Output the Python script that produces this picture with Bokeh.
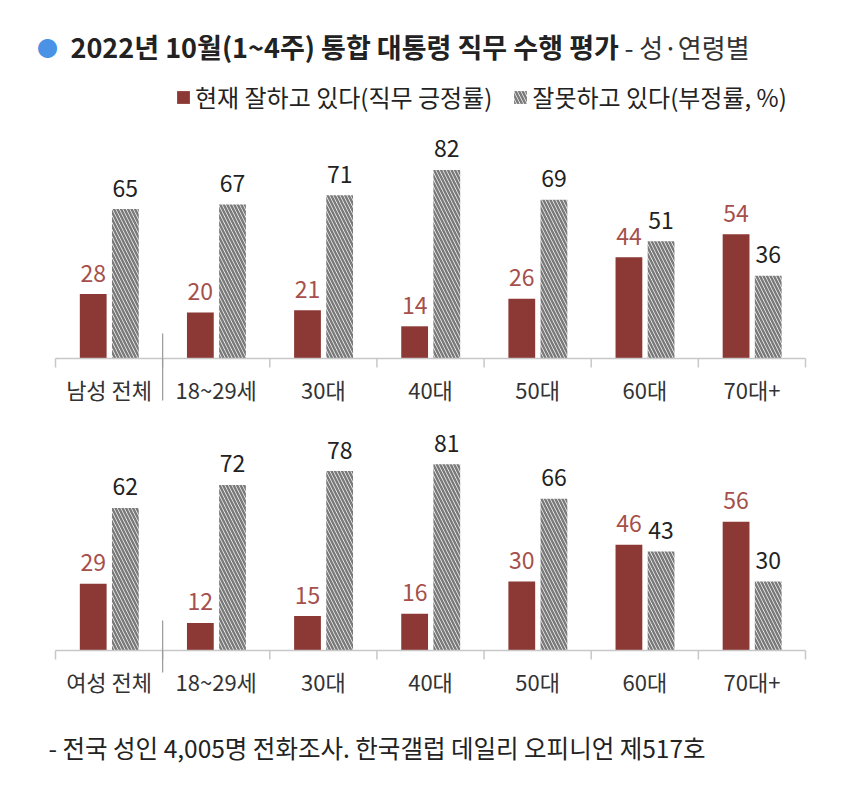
from bokeh.plotting import figure
from bokeh.models import ColumnDataSource, FactorRange, Range1d, Label, Legend, LegendItem
from bokeh.transform import dodge
from bokeh.layouts import column
from bokeh.embed import file_html
from bokeh.resources import INLINE
from bokeh.core.properties import value

# ---------------- data ----------------
title_main = "2022년 10월(1~4주) 통합 대통령 직무 수행 평가"
title_sub = "- 성·연령별"
legend_pos = "현재 잘하고 있다(직무 긍정률)"
legend_neg = "잘못하고 있다(부정률, %)"
footnote = "- 전국 성인 4,005명 전화조사. 한국갤럽 데일리 오피니언 제517호"

male_groups = ["남성 전체", "18~29세", "30대", "40대", "50대", "60대", "70대+"]
male_pos = [28, 20, 21, 14, 26, 44, 54]
male_neg = [65, 67, 71, 82, 69, 51, 36]

female_groups = ["여성 전체", "18~29세", "30대", "40대", "50대", "60대", "70대+"]
female_pos = [29, 12, 15, 16, 30, 46, 56]
female_neg = [62, 72, 78, 81, 66, 43, 30]

# ---------------- style / layout ----------------
FONT = "Noto Sans CJK KR"
RED = "#8c3834"
RED_TXT = "#a5504b"
HATCH = "#7a7a7a"
AXIS = "#c8c8c8"
SEP = "#9a9a9a"
BLUE = "#4a92e6"
K = 2.3                 # px per percentage point
W = 850
BORDER_LEFT = 10        # frame starts here
CAT_LEFT = 55           # first category boundary
CAT_W = 750             # width covered by the 7 categories
FRAME_W = W - BORDER_LEFT
UNIT = CAT_W / 7.0
PAD_SIDE = ((FRAME_W - CAT_W) / 2.0) / UNIT   # padding on each side, factor units


def make_panel(groups, pos, neg, top_px, height, base_px, sep_up, sep_down):
    y0 = -(top_px + height - base_px) / K
    y1 = (base_px - top_px) / K
    p = figure(width=W, height=height,
               x_range=FactorRange(factors=groups, range_padding=PAD_SIDE,
                                   range_padding_units="absolute"),
               y_range=Range1d(y0, y1),
               output_backend="svg", toolbar_location=None, title=None,
               x_axis_location=None, y_axis_location=None,
               min_border_left=BORDER_LEFT, min_border_right=0,
               min_border_top=0, min_border_bottom=0)
    p.outline_line_color = None
    p.background_fill_color = "white"
    p.border_fill_color = "white"
    p.grid.visible = False

    src = ColumnDataSource(dict(
        g=groups, pos=pos, neg=neg,
        pos_txt=[str(v) for v in pos], neg_txt=[str(v) for v in neg],
    ))

    r_pos = p.vbar(x=dodge("g", -0.148, range=p.x_range), top="pos", bottom=0,
                   width=0.25, source=src, fill_color=RED, line_color=None)
    r_neg = p.vbar(x=dodge("g", 0.152, range=p.x_range), top="neg", bottom=0,
                   width=0.25, source=src, fill_color="white", line_color=None,
                   hatch_pattern="\\", hatch_color=HATCH, hatch_scale=7, hatch_weight=2.5)

    p.text(x=dodge("g", -0.148, range=p.x_range), y="pos", text="pos_txt", source=src,
           text_font=value(FONT), text_font_size="23px", text_color=RED_TXT,
           text_align="center", text_baseline="middle", y_offset=-21)
    p.text(x=dodge("g", 0.152, range=p.x_range), y="neg", text="neg_txt", source=src,
           text_font=value(FONT), text_font_size="23px", text_color="#222222",
           text_align="center", text_baseline="middle", y_offset=-21)

    # category labels
    p.text(x="g", y=0, text="g", source=src,
           text_font=value(FONT), text_font_size="22px", text_color="#333333",
           text_align="center", text_baseline="middle", y_offset=30)

    # baseline, boundary ticks, separator
    p.segment(x0=[0], y0=[0], x1=[len(groups)], y1=[0], line_color=AXIS, line_width=1.5)
    bounds = list(range(len(groups) + 1))
    p.segment(x0=bounds, y0=[0] * len(bounds), x1=bounds, y1=[-9 / K] * len(bounds),
              line_color=AXIS, line_width=1.5)
    p.segment(x0=[1], y0=[sep_up / K], x1=[1], y1=[-sep_down / K],
              line_color=SEP, line_width=1.2)
    return p, r_pos, r_neg


def px_x(x_px):
    return (x_px - CAT_LEFT) / UNIT


# top panel: canvas y 0..415, baseline at 358
P1_TOP, P1_H, P1_BASE = 0, 415, 358
p1, r1, r2 = make_panel(male_groups, male_pos, male_neg, P1_TOP, P1_H, P1_BASE, 25, 42)
# bottom panel: canvas y 415..790, baseline at 650
P2_TOP, P2_H, P2_BASE = 415, 375, 650
p2, _, _ = make_panel(female_groups, female_pos, female_neg, P2_TOP, P2_H, P2_BASE, 30, 22)

# title
TY = (P1_BASE - 46) / K
p1.add_layout(Label(x=px_x(47), y=TY, text="●", text_color=BLUE,
                    text_font=FONT, text_font_size="21px", text_align="center",
                    text_baseline="middle"))
p1.add_layout(Label(x=px_x(70), y=TY, text=title_main, text_color="#222222",
                    text_font=FONT, text_font_size="27px", text_font_style="bold",
                    text_align="left", text_baseline="middle"))
p1.add_layout(Label(x=px_x(624), y=TY, text=title_sub, text_color="#333333",
                    text_font=FONT, text_font_size="26px",
                    text_align="left", text_baseline="middle"))

# legend (location = bottom-left corner, px from frame bottom-left)
legend = Legend(items=[LegendItem(label=legend_pos, renderers=[r1]),
                       LegendItem(label=legend_neg, renderers=[r2])],
                orientation="horizontal",
                location=(177 - BORDER_LEFT - 2, (P1_H - (102 - P1_TOP)) - 12),
                glyph_width=16, glyph_height=16, label_standoff=4, spacing=20,
                padding=0, margin=0, border_line_color=None, background_fill_alpha=0,
                label_text_font=FONT, label_text_font_size="24px",
                label_text_color="#222222", label_height=24)
p1.add_layout(legend)

# footnote
p2.add_layout(Label(x=px_x(48), y=(P2_BASE - 747) / K, text=footnote, text_color="#222222",
                    text_font=FONT, text_font_size="24.5px",
                    text_align="left", text_baseline="middle"))

layout = column(p1, p2)
open("out.html", "w").write(file_html(layout, INLINE))
